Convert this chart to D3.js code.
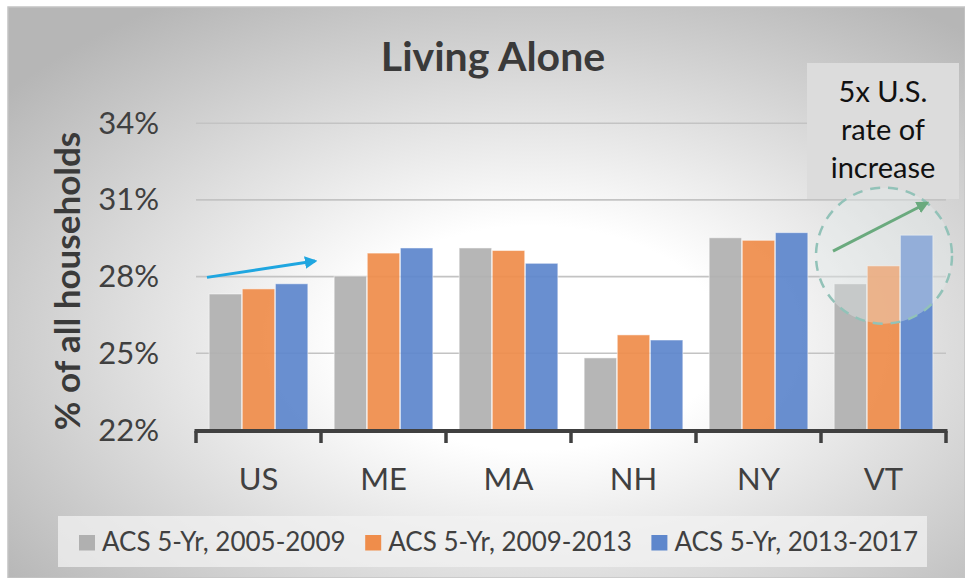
<!DOCTYPE html>
<html>
<head>
<meta charset="utf-8">
<script src="https://cdn.jsdelivr.net/npm/d3@7"></script>
<style>
  html, body { margin: 0; padding: 0; background: #ffffff; }
  svg { display: block; font-family: Lato, "Open Sans", sans-serif; }
</style>
</head>
<body>
<div id="chart"></div>
<script>
// ---- data ----
var states = ["US", "ME", "MA", "NH", "NY", "VT"];
var seriesNames = ["ACS 5-Yr, 2005-2009", "ACS 5-Yr, 2009-2013", "ACS 5-Yr, 2013-2017"];
var acs0509 = [27.3, 28.0, 29.1, 24.8, 29.5, 27.7];
var acs0913 = [27.5, 28.9, 29.0, 25.7, 29.4, 28.4];
var acs1317 = [27.7, 29.1, 28.5, 25.5, 29.7, 29.6];
var yTicks = [22, 25, 28, 31, 34];
var seriesColors = ["#b0b0b0", "#ef8d4b", "#5e87cc"];
var noteLines = ["5x U.S.", "rate of", "increase"];

var width = 965, height = 578;
var margin = {left: 196, right: 19, top: 122, bottom: 148};

var svg = d3.select("#chart").append("svg")
    .attr("width", width)
    .attr("height", height);

var defs = svg.append("defs");
var grad = defs.append("radialGradient")
    .attr("id", "bg")
    .attr("cx", "55%").attr("cy", "58%").attr("r", "70%");
grad.append("stop").attr("offset", "0%").attr("stop-color", "#ffffff");
grad.append("stop").attr("offset", "28%").attr("stop-color", "#ffffff");
grad.append("stop").attr("offset", "100%").attr("stop-color", "#b6b6b6");

function arrowMarker(id, color) {
    defs.append("marker")
        .attr("id", id)
        .attr("viewBox", "0 0 10 10")
        .attr("refX", 8).attr("refY", 5)
        .attr("markerWidth", 4.2).attr("markerHeight", 4.2)
        .attr("orient", "auto")
      .append("path")
        .attr("d", "M0,0 L10,5 L0,10 z")
        .attr("fill", color);
}
arrowMarker("arrBlue", "#1fa6e0");
arrowMarker("arrGreen", "#6aaa7e");

// chart area background
svg.append("rect")
    .attr("x", 8).attr("y", 7)
    .attr("width", width - 8).attr("height", height - 7)
    .attr("fill", "url(#bg)")
    .attr("stroke", "#c4c4c4")
    .attr("stroke-width", 1.5);

// scales
var x0 = d3.scaleBand().domain(states)
    .range([margin.left, width - margin.right])
    .paddingInner(0).paddingOuter(0);
var x1 = d3.scaleBand().domain(d3.range(3))
    .range([x0.bandwidth() * 0.1, x0.bandwidth() * 0.9])
    .padding(0.02);
var y = d3.scaleLinear().domain([22, 34])
    .range([height - margin.bottom - 0.5, margin.top + 0.7]);

// gridlines
svg.append("g")
    .attr("transform", "translate(" + margin.left + ",0)")
    .call(d3.axisLeft(y).tickValues(yTicks.slice(1))
        .tickSize(-(width - margin.left - margin.right)).tickFormat(""))
    .call(function(g) { g.select(".domain").remove(); })
    .selectAll("line")
        .attr("stroke", "#c3c3c3")
        .attr("stroke-width", 1.6);

// y tick labels
svg.append("g")
    .selectAll("text")
    .data(yTicks)
    .enter()
    .append("text")
    .attr("x", 159)
    .attr("y", function(d) { return y(d) + 11; })
    .attr("text-anchor", "end")
    .attr("fill", "#404040")
    .style("font-size", "31px")
    .text(function(d) { return d + "%"; });

// bars
var series = [acs0509, acs0913, acs1317];
var rows = states.map(function(s, i) {
    return {state: s, values: series.map(function(arr, k) { return {k: k, v: arr[i]}; })};
});

svg.append("g")
    .selectAll("g")
    .data(rows)
    .enter()
    .append("g")
    .attr("transform", function(d) { return "translate(" + x0(d.state) + ",0)"; })
    .selectAll("rect")
    .data(function(d) { return d.values; })
    .enter()
    .append("rect")
    .attr("x", function(d) { return x1(d.k); })
    .attr("width", x1.bandwidth())
    .attr("y", function(d) { return y(d.v); })
    .attr("height", function(d) { return y(22) - y(d.v); })
    .attr("fill", function(d) { return seriesColors[d.k]; })
    .attr("fill-opacity", 0.93)
    .attr("stroke", "#ffffff")
    .attr("stroke-opacity", 0.5)
    .attr("stroke-width", 1);

// x axis: thick dark line with ticks between categories
var axisY = y(22) + 1.5;
svg.append("line")
    .attr("x1", x0.range()[0] - 1.5).attr("x2", x0.range()[1] + 1.5)
    .attr("y1", axisY).attr("y2", axisY)
    .attr("stroke", "#404040").attr("stroke-width", 4);
var boundaries = states.map(function(s) { return x0(s); }).concat([x0.range()[1]]);
svg.append("g")
    .selectAll("line")
    .data(boundaries)
    .enter()
    .append("line")
    .attr("x1", function(d) { return d; }).attr("x2", function(d) { return d; })
    .attr("y1", axisY).attr("y2", axisY + 12)
    .attr("stroke", "#404040").attr("stroke-width", 3.5);

svg.append("g")
    .selectAll("text")
    .data(states)
    .enter()
    .append("text")
    .attr("x", function(d) { return x0(d) + x0.bandwidth() / 2; })
    .attr("y", 490)
    .attr("text-anchor", "middle")
    .attr("fill", "#404040")
    .style("font-size", "31px")
    .text(function(d) { return d; });

// title
svg.append("text")
    .attr("x", 493).attr("y", 70.5)
    .attr("text-anchor", "middle")
    .attr("fill", "#3a3a3a")
    .style("font-size", "41px")
    .style("font-weight", "bold")
    .text("Living Alone");

// y axis title
svg.append("text")
    .attr("transform", "translate(80,281) rotate(-90)")
    .attr("text-anchor", "middle")
    .attr("fill", "#3a3a3a")
    .style("font-size", "35px")
    .style("font-weight", "bold")
    .text("% of all households");

// legend
var legend = svg.append("g");
legend.append("rect")
    .attr("x", 58).attr("y", 516)
    .attr("width", 869).attr("height", 51)
    .attr("fill", "#f2f2f2").attr("fill-opacity", 0.75);
var item = legend.selectAll("g.item")
    .data(seriesNames)
    .enter()
    .append("g")
    .attr("class", "item")
    .attr("transform", function(d, i) { return "translate(" + (79 + i * 286.2) + ",0)"; });
item.append("rect")
    .attr("x", 0).attr("y", 535)
    .attr("width", 16).attr("height", 15.5)
    .attr("fill", function(d, i) { return seriesColors[i]; });
item.append("text")
    .attr("x", 23).attr("y", 550.5)
    .attr("fill", "#404040")
    .style("font-size", "26px")
    .text(function(d) { return d; });

// annotations: blue arrow US -> ME
svg.append("line")
    .attr("x1", x0("US") + 11).attr("y1", y(27.95))
    .attr("x2", x0("ME") - 6).attr("y2", y(28.59))
    .attr("stroke", "#1fa6e0").attr("stroke-width", 3)
    .attr("marker-end", "url(#arrBlue)");

// note box
svg.append("rect")
    .attr("x", 807).attr("y", 63)
    .attr("width", 152).attr("height", 136)
    .attr("fill", "#dcdcdc");
svg.append("g")
    .selectAll("text")
    .data(noteLines)
    .enter()
    .append("text")
    .attr("x", 883)
    .attr("y", function(d, i) { return 101.5 + i * 38.3; })
    .attr("text-anchor", "middle")
    .attr("fill", "#111111")
    .style("font-size", "29px")
    .text(function(d) { return d; });

// dashed highlight circle over VT
svg.append("circle")
    .attr("cx", x0("VT") + 63).attr("cy", y(28.8))
    .attr("r", 68)
    .attr("fill", "#e6eeee").attr("fill-opacity", 0.35)
    .attr("stroke", "#92c2b8").attr("stroke-width", 2.5)
    .attr("stroke-dasharray", "10,8");

svg.append("line")
    .attr("x1", x0("VT") + 12).attr("y1", y(28.98))
    .attr("x2", x0("VT") + 106).attr("y2", y(30.86))
    .attr("stroke", "#6aaa7e").attr("stroke-width", 3)
    .attr("marker-end", "url(#arrGreen)");
</script>
</body>
</html>
